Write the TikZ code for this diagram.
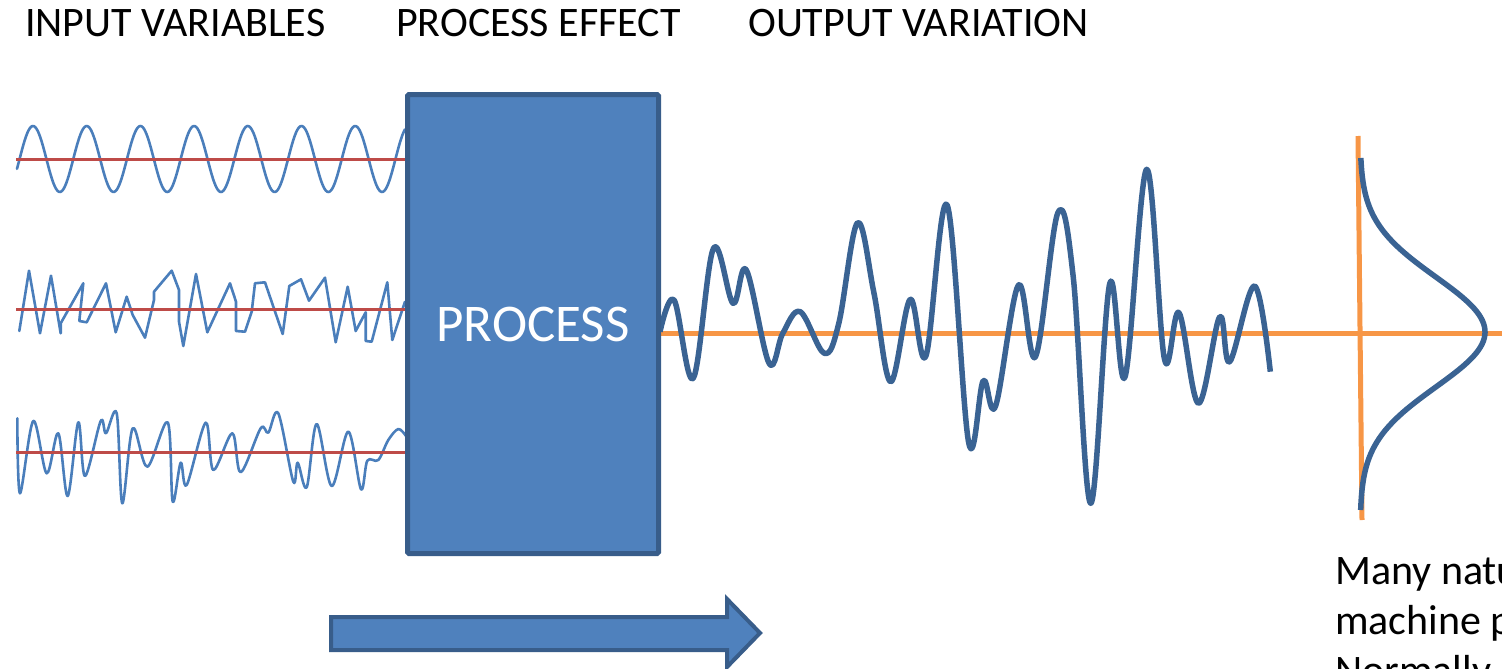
\documentclass[tikz,border=0pt]{standalone}
\usepackage{fontspec}
\setmainfont{Carlito}
\definecolor{boxfill}{HTML}{4F81BD}
\definecolor{boxdraw}{HTML}{385D8A}
\definecolor{inblue}{HTML}{4A7EBB}
\definecolor{redline}{HTML}{BE4B48}
\definecolor{orangeline}{HTML}{F79646}
\definecolor{outblue}{HTML}{3A6393}
\begin{document}
\begin{tikzpicture}[x=1pt,y=-1pt,
  toptext/.style={anchor=base west,inner sep=0pt,font=\fontsize{42}{50}\selectfont},
  procbox/.style={draw=boxdraw,fill=boxfill,line width=5pt,rounded corners=1.5pt,
    minimum width=251pt,minimum height=459pt,inner sep=0pt,text=white,
    font=\fontsize{53}{60}\selectfont},
  inwave/.style={draw=inblue,line width=2.6pt,line join=round,line cap=round},
  redbase/.style={draw=redline,line width=3pt},
  orangebase/.style={draw=orangeline,line width=5pt},
  outwave/.style={draw=outblue,line width=5.5pt,line join=round},
  blockarrow/.style={draw=boxdraw,fill=boxfill,line width=4pt,line join=miter}]
\useasboundingbox (0,0) rectangle (1502,669);

% titles
\node[toptext] (inp) at (25,37) {INPUT VARIABLES};
\node[toptext] (eff) at (396,37) {PROCESS EFFECT};
\node[toptext] (outv) at (748,37) {OUTPUT VARIATION};

% input wave 1 (sinusoid)
\draw[inwave] plot[domain=17:405,samples=300] (\x,{159-33*cos(6.7039*(\x-33))});
\draw[redbase] (16,159) -- (405,159);

% input wave 2 (zigzag)
\draw[inwave] (19.3,331) -- (29,270.7) -- (40,333.3) -- (51,275.7) -- (60.7,333.3) -- (60.7,323.3)
 -- (83.3,283.3) -- (79.3,321) -- (86.7,322.3) -- (106,283.3) -- (115.7,332.3) -- (126.7,296.7)
 -- (132.7,315) -- (145,337.7) -- (154,300) -- (154,291.7) -- (171.7,270.7) -- (179,290)
 -- (179,321.7) -- (183.3,346) -- (196,274) -- (207.3,332.3) -- (230,283.3) -- (236,301.7)
 -- (236,331) -- (245,331.7) -- (251.7,311.7) -- (255,283.3) -- (265,282.3) -- (282.7,334)
 -- (289.3,286) -- (301,279.3) -- (309,300.7) -- (325,277.7) -- (335.7,342.3) -- (347.7,286.7)
 -- (355.7,331) -- (365.7,312.3) -- (365.7,341) -- (371.7,341.7) -- (387.3,282.3) -- (392.3,340)
 -- (405,301.7);
\draw[redbase] (16,309) -- (405,309);

% input wave 3 (smooth irregular)
\draw[inwave] plot[smooth,tension=0.55] coordinates {(17.3,418.3) (20,493.3) (33.3,421) (46.7,473.3)
 (58.3,433.3) (67.7,496) (78.3,422.3) (85,476) (100.7,421) (106,433.3) (116.7,413.3) (122.3,503.3)
 (132.7,428.3) (147.3,466.7) (167.7,422.3) (172.7,501.7) (180.7,462.7) (186.7,485) (205.7,422.7)
 (213.3,470) (232.3,433.3) (240.7,472.3) (260.7,428.3) (268.3,432.7) (278.3,413.3) (293.3,481.7)
 (297.7,462.7) (306.7,487.3) (316.7,424) (331.7,486) (348.3,431.7) (361,489.3) (367.3,460.7)
 (378.3,460) (388.3,440) (398.3,429) (406,436)};
\draw[redbase] (16,452) -- (405,452);

% output
\draw[orangebase] (661,333) -- (1502,333);
\draw[outwave] plot[smooth,tension=0.6] coordinates {(660,331.7) (674.1,300) (693.2,378.3) (713.5,248.3)
 (733,303.3) (746.3,270) (769.1,363.3) (782.8,333.3) (800.2,311.7) (824.3,353.3) (838.8,323.3)
 (857.5,222.7) (874,293.3) (890.7,381.7) (910.2,299.3) (925.9,356) (947.1,205) (968.7,442.7)
 (983.2,380.7) (995.6,406) (1018.5,285) (1035.5,356.7) (1057.9,212.7) (1073.2,276.7) (1090.7,503.3)
 (1109.8,283.3) (1125.1,376.7) (1146.7,169.3) (1164.5,359.3) (1179,312.7) (1198.5,403.3)
 (1219.7,316.7) (1229.7,361.7) (1254.6,286) (1270.3,371.7)};

% distribution
\draw[orangebase] (1358,136) -- (1362,520);
\draw[outwave] plot[domain=158:510,samples=120] ({1360+125*exp(-0.5*((\x-332)/55)^2)},{\x});

% process box
\node[procbox] (process) at (533,324) {PROCESS};

% block arrow
\draw[blockarrow] (331,617) -- (727,617) -- (727,599) -- (760,633) -- (727,667) -- (727,650) -- (331,650) -- cycle;

% bottom-right note
\node[toptext] (note1) at (1335,584) {Many natu};
\node[toptext] (note2) at (1335,634) {machine p};
\node[toptext] (note3) at (1335,684) {Normally};
\end{tikzpicture}
\end{document}
